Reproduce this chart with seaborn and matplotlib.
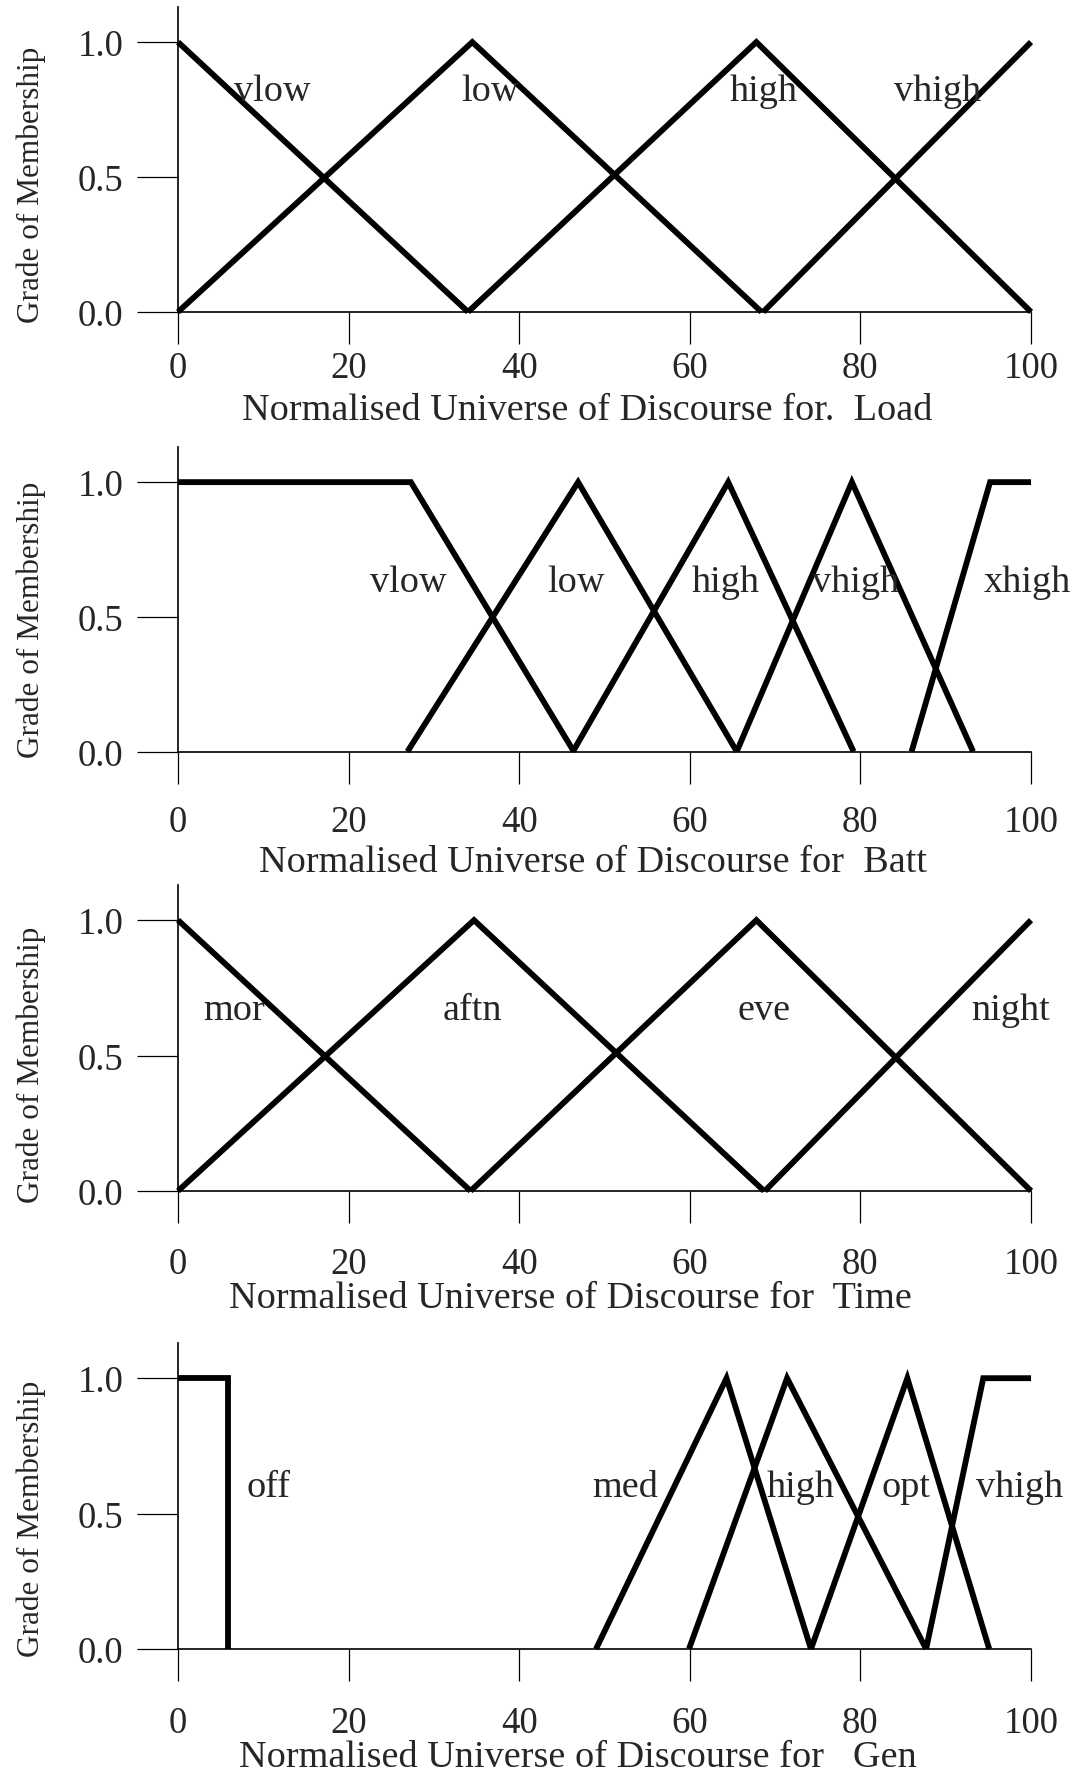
import numpy as np
import pandas as pd
import matplotlib
matplotlib.use('Agg')
import matplotlib.pyplot as plt
import seaborn as sns

sns.set_theme(style='white')
plt.rcParams['font.family'] = ['Liberation Serif', 'DejaVu Serif']

# membership functions: breakpoints (x) and grades (mu) per term
load_terms = ['vlow', 'low', 'high', 'vhigh']
load_x = [[0, 34.0], [0, 34.5, 68.4], [34.0, 67.8, 100], [68.6, 100]]
load_mu = [[1, 0], [0, 1, 0], [0, 1, 0], [0, 1]]

batt_terms = ['vlow', 'low', 'high', 'vhigh', 'xhigh']
batt_x = [[0, 27.3, 46.4], [26.9, 46.9, 65.5], [46.3, 64.5, 79.2], [65.5, 79.0, 93.2], [86.0, 95.2, 100]]
batt_mu = [[1, 1, 0], [0, 1, 0], [0, 1, 0], [0, 1, 0], [0, 1, 1]]

time_terms = ['mor', 'aftn', 'eve', 'night']
time_x = [[0, 34.3], [0, 34.7, 68.7], [34.3, 67.8, 100], [68.8, 100]]
time_mu = [[1, 0], [0, 1, 0], [0, 1, 0], [0, 1]]

gen_terms = ['off', 'med', 'high', 'opt', 'vhigh']
gen_x = [[0, 5.9, 5.9], [49.0, 64.3, 74.2], [59.9, 71.4, 87.7], [74.2, 85.5, 95.1], [87.7, 94.4, 100]]
gen_mu = [[1, 1, 0], [0, 1, 0], [0, 1, 0], [0, 1, 0], [0, 1, 1]]

xlabels = ['Normalised Universe of Discourse for.  Load',
           'Normalised Universe of Discourse for  Batt',
           'Normalised Universe of Discourse for  Time',
           'Normalised Universe of Discourse for   Gen']

x_ticks = [0, 20, 40, 60, 80, 100]
y_ticks = [0.0, 0.5, 1.0]
y_ticklabels = ['0.0', '0.5', '1.0']

# where the term names sit
load_lab_x = [11.1, 36.6, 68.7, 89.0]
batt_lab_x = [27.0, 46.7, 64.2, 79.4, 99.6]
time_lab_x = [6.6, 34.5, 68.7, 97.6]
gen_lab_x = [10.6, 52.4, 73.0, 85.4, 98.6]
lab_y = [0.82, 0.63, 0.67, 0.60]

panels = [
    (load_terms, load_x, load_mu, load_lab_x),
    (batt_terms, batt_x, batt_mu, batt_lab_x),
    (time_terms, time_x, time_mu, time_lab_x),
    (gen_terms, gen_x, gen_mu, gen_lab_x),
]

# layout (figure fractions) and label placement per panel
rects = [[0.1656, 0.8236, 0.7935, 0.1719],
         [0.1656, 0.5758, 0.7935, 0.1716],
         [0.1656, 0.3281, 0.7935, 0.1725],
         [0.1656, 0.0699, 0.7935, 0.1725]]
xlab_pos = [(0.48, -0.321), (0.487, -0.361), (0.46, -0.35), (0.469, -0.353)]
ylab_pos = [(-0.172, 0.42), (-0.172, 0.435), (-0.172, 0.415), (-0.172, 0.43)]
xtick_pad = [5, 15, 17, 18]

fig = plt.figure(figsize=(10.75, 17.74), dpi=100)

for i, (terms, xs, mus, lab_x) in enumerate(panels):
    ax = fig.add_axes(rects[i])
    rows = []
    for t, xx, mm in zip(terms, xs, mus):
        for k, (a, b) in enumerate(zip(xx, mm)):
            rows.append({'term': t, 'order': k, 'x': a, 'mu': b})
    df = pd.DataFrame(rows)
    sns.lineplot(data=df, x='x', y='mu', units='term', estimator=None, sort=False,
                 color='black', linewidth=4.2, solid_joinstyle='miter',
                 solid_capstyle='butt', ax=ax, legend=False)
    for ln in ax.lines:
        ln.set_clip_on(False)

    for t, lx in zip(terms, lab_x):
        ax.text(lx, lab_y[i], t, ha='center', va='center', fontsize=27.5)

    ax.set_xlim(0, 100)
    ax.set_ylim(0, 1.13)
    ax.set_xticks(x_ticks)
    ax.set_xticklabels([str(v) for v in x_ticks])
    ax.set_yticks(y_ticks)
    ax.set_yticklabels(y_ticklabels)
    sns.despine(ax=ax)
    for s in ['left', 'bottom']:
        ax.spines[s].set_linewidth(1.2)
        ax.spines[s].set_color('black')
    ax.tick_params(axis='x', direction='out', length=23, width=0.9, color='black',
                   pad=xtick_pad[i], labelsize=26.5, bottom=True)
    ax.tick_params(axis='y', direction='out', length=29.5, width=0.9, color='black',
                   pad=10, labelsize=26.5, left=True)

    ax.set_xlabel(xlabels[i], fontsize=27.5, va='center')
    ax.xaxis.set_label_coords(*xlab_pos[i])
    ax.set_ylabel('Grade of Membership', fontsize=22.5, va='center')
    ax.yaxis.set_label_coords(*ylab_pos[i])

fig.savefig('out.png', dpi=100, facecolor='white')
